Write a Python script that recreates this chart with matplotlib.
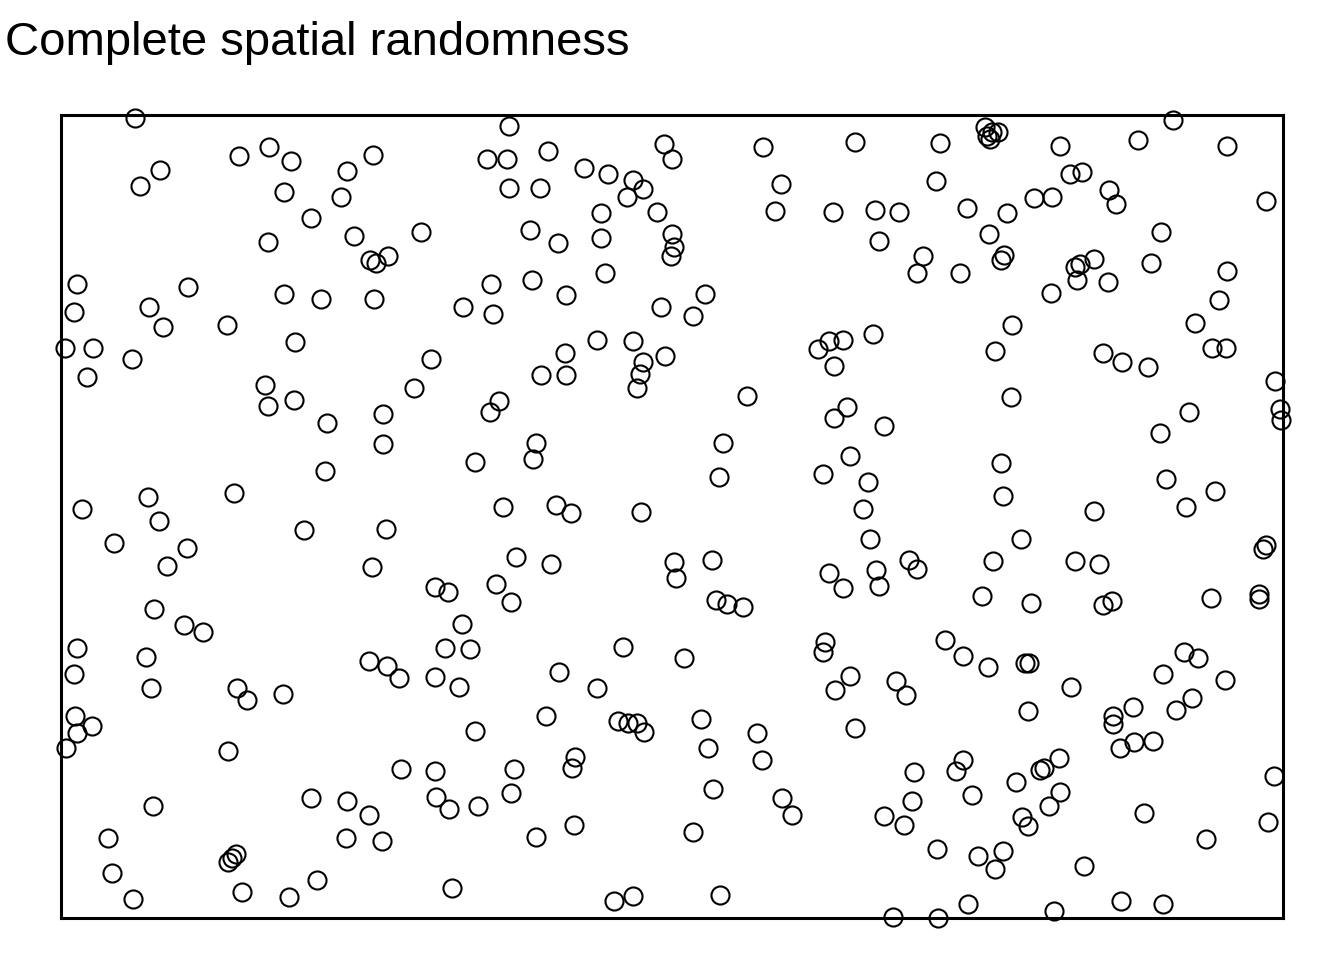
import matplotlib
matplotlib.use("Agg")
import matplotlib.pyplot as plt
import numpy as np

# observation window (same units as the point coordinates)
win_w = 1222
win_h = 803

# point pattern
x = [74, 448, 1112, 924, 926, 931, 937, 929, 208, 178, 230, 312, 426, 446, 487, 603, 611, 702, 794, 879,
     999, 1077, 1166, 99, 79, 286, 523, 547, 572, 582, 566, 1009, 1021, 1048, 1055, 1205, 223, 280, 448, 479,
     720, 875, 973, 991, 250, 540, 596, 714, 772, 814, 838, 906, 946, 207, 293, 360, 469, 497, 540, 611,
     613, 610, 818, 928, 1100, 309, 315, 327, 940, 943, 862, 856, 899, 1014, 1019, 1016, 1033, 1047, 1090, 1166,
     16, 127, 430, 471, 544, 13, 88, 102, 166, 223, 260, 313, 402, 432, 505, 600, 632, 644, 990, 1158,
     1134, 951, 4, 32, 26, 71, 234, 370, 353, 504, 480, 505, 536, 572, 604, 582, 579, 576, 757, 768,
     782, 773, 812, 934, 1042, 1061, 1087, 1151, 1165, 204, 233, 207, 322, 266, 429, 438, 686, 773, 786, 823,
     950, 1128, 1099, 1214, 1219, 1220, 322, 475, 472, 414, 662, 658, 789, 762, 807, 940, 1105, 264, 21, 87,
     98, 173, 243, 325, 442, 495, 510, 580, 802, 942, 1033, 1125, 1154, 53, 126, 106, 311, 455, 490, 613,
     615, 651, 809, 848, 856, 768, 815, 782, 818, 932, 960, 1014, 1038, 1202, 1205, 93, 123, 142, 374, 387,
     435, 450, 655, 666, 682, 921, 970, 1042, 1051, 1150, 1198, 1198, 16, 13, 85, 90, 308, 326, 338, 384,
     409, 401, 374, 398, 498, 536, 562, 623, 764, 762, 789, 774, 835, 845, 884, 902, 927, 964, 968, 1010,
     1123, 1137, 1102, 1131, 1164, 176, 186, 222, 14, 31, 16, 5, 167, 414, 485, 557, 567, 576, 583, 640,
     647, 696, 701, 794, 967, 1052, 1052, 1072, 1115, 1059, 1073, 1092, 340, 374, 453, 511, 514, 853, 895, 902,
     955, 979, 983, 998, 1213, 92, 250, 286, 308, 321, 285, 375, 388, 417, 450, 652, 721, 731, 823, 843,
     851, 911, 999, 988, 961, 967, 1083, 1207, 1145, 47, 51, 72, 167, 171, 175, 181, 228, 256, 391, 475,
     513, 553, 572, 632, 659, 876, 917, 942, 934, 1023, 832, 877, 907, 993, 1060, 1102]
y = [800, 792, 798, 791, 782, 786, 786, 779, 771, 762, 757, 763, 759, 759, 767, 774, 759, 771, 776, 775,
     772, 778, 772, 748, 732, 747, 750, 744, 738, 729, 721, 744, 746, 728, 714, 717, 726, 721, 730, 730,
     734, 737, 720, 721, 700, 705, 706, 707, 706, 708, 706, 710, 705, 676, 682, 686, 688, 675, 680, 684,
     671, 662, 677, 684, 686, 658, 655, 662, 658, 663, 662, 645, 645, 651, 654, 638, 659, 636, 655, 647,
     634, 631, 634, 638, 645, 606, 611, 591, 593, 624, 619, 619, 611, 604, 623, 611, 602, 624, 625, 618,
     595, 593, 570, 570, 541, 559, 576, 559, 530, 565, 543, 543, 578, 577, 562, 556, 544, 530, 569, 577,
     578, 552, 584, 567, 565, 556, 551, 570, 570, 533, 518, 512, 504, 495, 506, 517, 522, 500, 511, 492,
     521, 506, 485, 537, 509, 498, 474, 475, 459, 456, 475, 441, 462, 444, 436, 455, 439, 447, 409, 421,
     397, 425, 388, 389, 411, 413, 405, 406, 409, 422, 407, 411, 427, 375, 370, 352, 351, 361, 354, 356,
     340, 358, 379, 358, 349, 345, 348, 330, 332, 357, 379, 357, 354, 369, 373, 309, 293, 286, 331, 326,
     334, 316, 318, 314, 311, 322, 315, 313, 317, 320, 324, 319, 270, 244, 261, 230, 257, 252, 240, 270,
     269, 294, 241, 231, 246, 230, 271, 260, 276, 266, 242, 228, 237, 223, 278, 262, 251, 255, 255, 231,
     266, 260, 244, 220, 238, 230, 218, 224, 202, 192, 185, 170, 167, 187, 202, 197, 195, 195, 186, 199,
     170, 185, 158, 190, 207, 202, 194, 211, 208, 170, 176, 177, 149, 147, 149, 150, 161, 146, 147, 158,
     136, 148, 150, 160, 142, 112, 120, 117, 103, 77, 80, 121, 109, 112, 125, 129, 120, 103, 102, 93,
     117, 123, 126, 112, 101, 92, 105, 96, 79, 80, 45, 19, 56, 60, 64, 26, 21, 38, 30, 81,
     93, 17, 22, 86, 23, 69, 62, 67, 49, 52, 1, 0, 14, 7, 17, 14]

fig = plt.figure(figsize=(13.44, 9.6), dpi=100)
ax = fig.add_axes([61 / 1344, 42 / 960, 1222 / 1344, 803 / 960])

ax.plot(x, y, linestyle="none", marker="o", markersize=13, markerfacecolor="none",
        markeredgecolor="black", markeredgewidth=1.5, clip_on=False)

ax.set_xlim(0, win_w)
ax.set_ylim(0, win_h)
ax.set_aspect("equal")
ax.set_xticks([])
ax.set_yticks([])
for s in ax.spines.values():
    s.set_linewidth(2.2)
    s.set_color("black")

fig.text(5 / 1344, 1 - 55 / 960, "Complete spatial randomness", fontsize=34,
         family="Liberation Sans", ha="left", va="baseline")

fig.savefig("out.png", dpi=100)
